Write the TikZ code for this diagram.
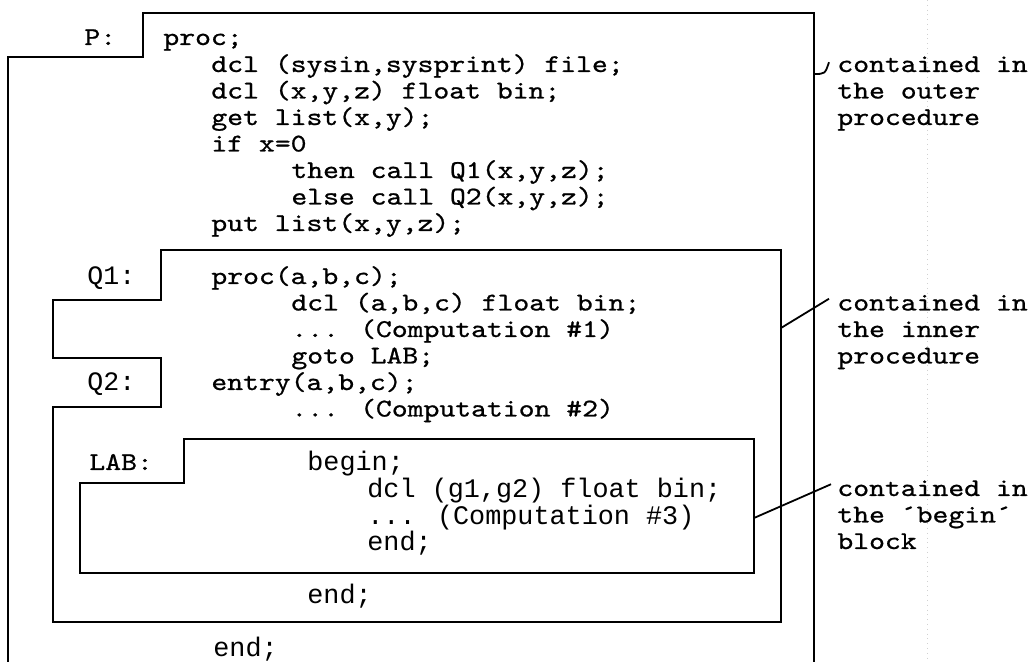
\documentclass[tikz,border=0pt]{standalone}
\usepackage{fontspec}
\newfontfamily\typa{lmmono10-regular.otf}[FakeStretch=1.18,FakeBold=0.8]
\newfontfamily\typb{Liberation Mono}
\begin{document}
\begin{tikzpicture}[x=0.5pt,y=-0.5pt,
  box/.style={line width=1pt, line join=miter},
  pica/.style={font=\typa\fontsize{12.8pt}{15pt}\selectfont, inner sep=0pt, anchor=base west},
  gothic/.style={font=\typb\fontsize{13.4pt}{15pt}\selectfont, inner sep=0pt, anchor=base west},
  qlab/.style={font=\typb\fontsize{13.3pt}{15pt}\selectfont, inner sep=0pt, anchor=base west},
  lead/.style={line width=0.9pt}]
\useasboundingbox (0,0) rectangle (1034,662);
% faint scan line
\draw[black!18, line width=0.4pt, dotted] (927,0) -- (927,662);
% outer procedure P
\draw[box] (8,662) -- (8,57) -- (143,57) -- (143,13) -- (814,13) -- (814,662);
% inner procedure Q1/Q2
\draw[box] (161,250) -- (781,250) -- (781,622) -- (53,622) -- (53,407) -- (161,407)
  -- (161,358) -- (53,358) -- (53,300) -- (161,300) -- cycle;
% begin block LAB
\draw[box] (184,439) -- (754,439) -- (754,573) -- (80,573) -- (80,483) -- (184,483) -- cycle;
% labels
\node[pica] (lP) at (84,45) {P:};
\node[qlab] (lQ1) at (87,285) {Q1:};
\node[qlab] (lQ2) at (87,391) {Q2:};
\node[pica] (lLAB) at (89,470) {LAB:};
% P text
\node[pica] (p0) at (163,45) {proc;};
\node[pica] (p1) at (211,72) {dcl (sysin,sysprint) file;};
\node[pica] (p2) at (211,98.5) {dcl (x,y,z) float bin;};
\node[pica] (p3) at (211,125) {get list(x,y);};
\node[pica] (p4) at (211,151.5) {if x=0};
\node[pica] (p5) at (291,178) {then call Q1(x,y,z);};
\node[pica] (p6) at (291,204.5) {else call Q2(x,y,z);};
\node[pica] (p7) at (211,231) {put list(x,y,z);};
% Q text
\node[pica] (q0) at (211,284) {proc(a,b,c);};
\node[pica] (q1) at (291,310.5) {dcl (a,b,c) float bin;};
\node[pica] (q2) at (291,337) {... (Computation \#1)};
\node[pica] (q3) at (291,363.5) {goto LAB;};
\node[pica] (q4) at (211,390) {entry(a,b,c);};
\node[pica] (q5) at (291,416.5) {... (Computation \#2)};
% LAB text
\node[gothic] (l0) at (307,471) {begin;};
\node[gothic] (l1) at (367,497.5) {dcl (g1,g2) float bin;};
\node[gothic] (l2) at (367,524) {... (Computation \#3)};
\node[gothic] (l3) at (367,550.5) {end;};
\node[gothic] (qend) at (307,603.5) {end;};
\node[gothic] (pend) at (213,656) {end;};
% annotations
\node[pica] (a1) at (837,72) {contained in};
\node[pica] (a1b) at (837,98.5) {the outer};
\node[pica] (a1c) at (837,125) {procedure};
\node[pica] (a2) at (837,310.5) {contained in};
\node[pica] (a2b) at (837,337) {the inner};
\node[pica] (a2c) at (837,363.5) {procedure};
\node[pica] (a3) at (837,496) {contained in};
\node[pica] (a3b) at (837,522.5) {the ´begin´};
\node[pica] (a3c) at (837,549) {block};
% leaders
\coordinate (e1) at (814,74);
\coordinate (e2) at (781,328);
\coordinate (e3) at (754,518);
\draw[lead] (e1) .. controls (825,74) .. ([xshift=-4,yshift=1]a1.west);
\draw[lead] (e2) -- ([xshift=-4,yshift=2]a2.west);
\draw[lead] (e3) -- ([xshift=-3,yshift=2]a3.west);
\end{tikzpicture}
\end{document}
